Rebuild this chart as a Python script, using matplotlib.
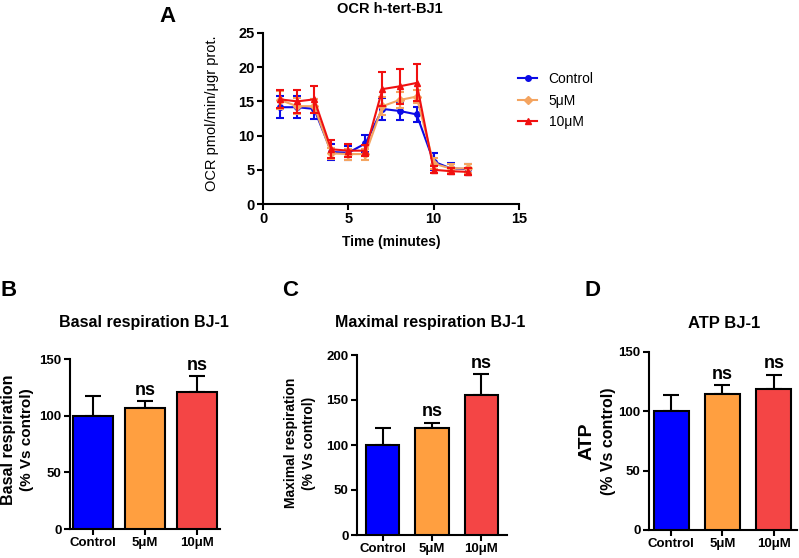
import numpy as np
import matplotlib
matplotlib.use("Agg")
import matplotlib.pyplot as plt

plt.rcParams['font.family'] = ['Liberation Sans', 'DejaVu Sans']

# panel A data
minutes = np.arange(1, 13)
ctrl = [14.15, 14.15, 13.9, 7.6, 7.5, 8.85, 13.9, 13.6, 13.1, 6.2, 5.2, 5.1]
ctrl_err = [1.6, 1.6, 1.5, 1.2, 1.0, 1.2, 1.6, 1.3, 1.1, 1.2, 0.8, 0.8]
c5 = [15.2, 14.3, 14.3, 7.4, 7.3, 7.3, 14.3, 15.2, 15.7, 5.9, 5.2, 5.2]
c5_err = [1.3, 1.2, 1.0, 0.8, 0.8, 0.8, 1.3, 1.2, 1.0, 0.8, 0.6, 0.6]
c10 = [15.3, 15.0, 15.3, 8.0, 7.8, 7.8, 16.8, 17.2, 17.7, 5.0, 4.8, 4.7]
c10_err = [1.3, 1.7, 2.0, 1.3, 1.0, 0.8, 2.5, 2.6, 2.7, 0.5, 0.4, 0.5]

# bar panels
groups = ['Control', '5\u03bcM', '10\u03bcM']
basal = [100, 107, 121]
basal_err = [17, 6, 14]
maximal = [100, 119, 156]
maximal_err = [19, 6, 23]
atp = [100, 115, 119]
atp_err = [14, 7, 12]
sig = ['', 'ns', 'ns']

line_cols = ['#0a0ae6', '#f4a460', '#f01010']
bar_cols = ['#0000ff', '#ff9f40', '#f44545']

W, H = 799, 558
fig = plt.figure(figsize=(W / 100, H / 100), dpi=100)


def box(x0, x1, ytop, ybot):
    return [x0 / W, 1 - ybot / H, (x1 - x0) / W, (ybot - ytop) / H]


def ftext(x, y, s, **kw):
    fig.text(x / W, 1 - y / H, s, **kw)


def style(ax, fs):
    for s in ['top', 'right']:
        ax.spines[s].set_visible(False)
    for s in ['left', 'bottom']:
        ax.spines[s].set_linewidth(1.5)
    ax.tick_params(width=1.5, length=4, labelsize=fs, pad=2)
    for t in ax.get_xticklabels() + ax.get_yticklabels():
        t.set_fontweight('bold')


# ---- A ----
ax = fig.add_axes(box(263, 519, 33, 204))
for y, e, c, m, lab in [(ctrl, ctrl_err, line_cols[0], 'o', 'Control'),
                        (c5, c5_err, line_cols[1], 'D', '5\u03bcM'),
                        (c10, c10_err, line_cols[2], '^', '10\u03bcM')]:
    ax.errorbar(minutes, y, yerr=e, fmt='none', ecolor=c,
                elinewidth=1.5, capsize=3, capthick=1.5)
    ax.plot(minutes, y, color=c, marker=m, ms=4, lw=1.5, label=lab)
ax.set_xlim(0, 15)
ax.set_ylim(0, 25)
ax.set_xticks([0, 5, 10, 15])
ax.set_yticks([0, 5, 10, 15, 20, 25])
style(ax, 10.5)
ax.set_xlabel('Time (minutes)', fontsize=10, fontweight='bold', labelpad=6)
ftext(212, 113, 'OCR pmol/min/\u03bcgr prot.', fontsize=10.5, rotation=90,
      ha='center', va='center')
ftext(390, 9, 'OCR h-tert-BJ1', fontsize=10.5, fontweight='bold',
      ha='center', va='center')
ax.legend(loc='upper left', bbox_to_anchor=(518 / W, 1 - 72 / H),
          bbox_transform=fig.transFigure, frameon=False, fontsize=10,
          handlelength=1.4, labelspacing=0.55, borderpad=0, borderaxespad=0)
ftext(168, 17, 'A', fontsize=16, fontweight='bold', va='center', ha='center')


def bars(rect, vals, errs, ymax, xlim, width, title, lab, labpos,
         titlepos, titlefs):
    ax = fig.add_axes(box(*rect))
    x = np.arange(len(vals))
    ax.bar(x, vals, width=width, color=bar_cols, edgecolor='black', lw=1.5,
           zorder=3)
    ax.errorbar(x, vals, yerr=[np.zeros(3), errs], fmt='none', ecolor='black',
                elinewidth=1.5, capsize=6, capthick=1.5, zorder=2)
    for xi, v, e, s in zip(x, vals, errs, sig):
        ax.text(xi, v + e + ymax * 0.012, s, ha='center', va='bottom',
                fontsize=13, fontweight='bold')
    ax.set_xlim(*xlim)
    ax.set_ylim(0, ymax)
    ax.set_yticks(np.arange(0, ymax + 1, 50))
    ax.set_xticks(x)
    ax.set_xticklabels(groups)
    style(ax, 9.5)
    ftext(titlepos[0], titlepos[1], title, fontsize=titlefs,
          fontweight='bold', ha='center', va='center')
    ftext(labpos[0], labpos[1], lab, fontsize=16, fontweight='bold',
          ha='center', va='center')
    return ax


bars((70, 220, 359, 529), basal, basal_err, 150, (-0.44, 2.44), 0.77,
     'Basal respiration BJ-1', 'B', (9, 290), (144, 323), 11.5)
ftext(9, 440, 'Basal respiration', fontsize=11.5, fontweight='bold',
      rotation=90, ha='center', va='center')
ftext(27, 440, '(% Vs control)', fontsize=11, fontweight='bold',
      rotation=90, ha='center', va='center')

bars((357, 507, 355, 535), maximal, maximal_err, 200, (-0.52, 2.52), 0.67,
     'Maximal respiration BJ-1', 'C', (290, 290), (430, 322), 11.5)
ftext(291, 443, 'Maximal respiration', fontsize=10, fontweight='bold',
      rotation=90, ha='center', va='center')
ftext(309, 443, '(% Vs control)', fontsize=10, fontweight='bold',
      rotation=90, ha='center', va='center')

bars((649, 797, 352, 530), atp, atp_err, 150, (-0.43, 2.45), 0.68,
     'ATP BJ-1', 'D', (593, 290), (724, 323), 12)
ftext(587, 441, 'ATP', fontsize=14, fontweight='bold', rotation=90,
      ha='center', va='center')
ftext(608, 441, '(% Vs control)', fontsize=11.5, fontweight='bold',
      rotation=90, ha='center', va='center')

fig.savefig('out.png', dpi=100)
